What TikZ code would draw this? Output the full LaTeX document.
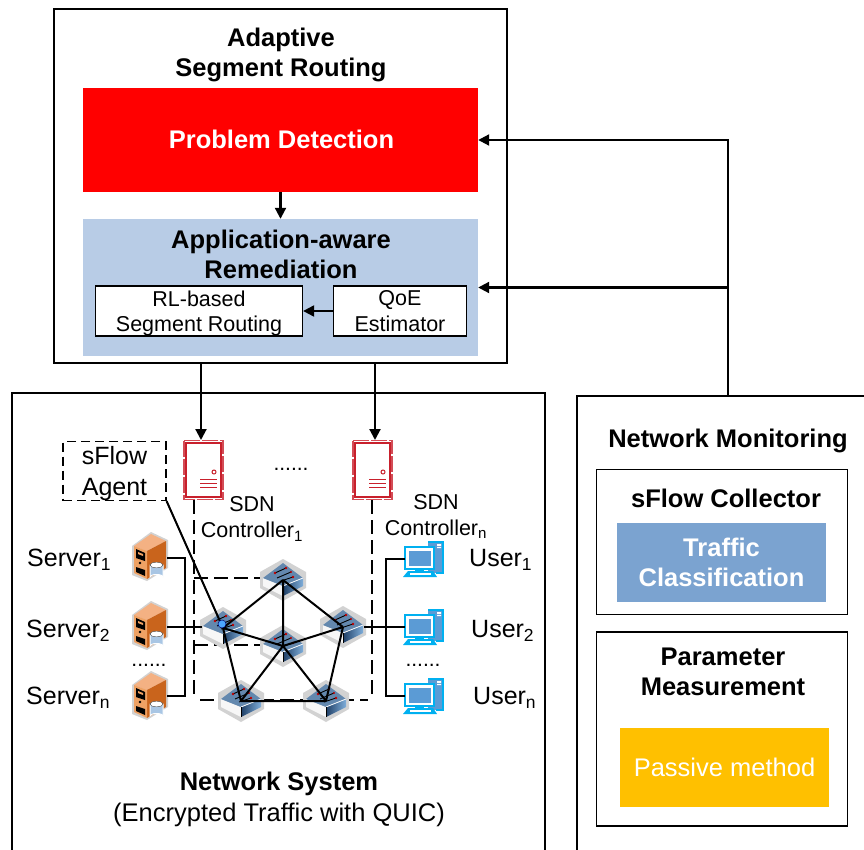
\documentclass[tikz,border=0pt]{standalone}
\usepackage{fontspec}
\setmainfont{Liberation Sans}
\usetikzlibrary{arrows.meta,calc}
\definecolor{redbox}{HTML}{FF0000}
\definecolor{lightblue}{HTML}{B8CCE6}
\definecolor{midblue}{HTML}{7BA3D0}
\definecolor{amber}{HTML}{FFC000}
\definecolor{ctrl}{HTML}{C8202C}
\definecolor{swtop}{HTML}{6388AE}
\definecolor{swdark}{HTML}{1F3F66}
\definecolor{swlight}{HTML}{7FAEDA}
\definecolor{halo}{HTML}{D2D2D2}
\definecolor{srvtop}{HTML}{F4B183}
\definecolor{srvright}{HTML}{C9641C}
\definecolor{srvleft}{HTML}{EFA264}
\definecolor{cyl}{HTML}{A9C6E4}
\definecolor{pccyan}{HTML}{00B0F0}
\definecolor{pcblue}{HTML}{5B9BD5}
\tikzset{
  x=1pt,y=-1pt,
  frame/.style={draw=black,line width=1.5pt,fill=white},
  innerbox/.style={draw=black,line width=1.3pt,fill=white},
  lbl/.style={font=\fontsize{25}{31}\selectfont,align=center,inner sep=0pt},
  blbl/.style={font=\fontsize{25.5}{30}\selectfont\bfseries,align=center,inner sep=0pt},
  slbl/.style={font=\fontsize{21.5}{25.5}\selectfont,align=center,inner sep=0pt},
  dotlbl/.style={font=\fontsize{21}{26}\selectfont,inner sep=0pt},
  wire/.style={draw=black,line width=2pt},
  arr/.style={draw=black,line width=2.1pt,-{Triangle[length=11pt,width=11pt]}},
  dashln/.style={draw=black,line width=1.5pt,dash pattern=on 14pt off 6pt},
  pics/switchicon/.style={code={
    \fill[halo] (0,-21)--(23,-8)--(23,8)--(0,21)--(-23,8)--(-23,-8)--cycle;
    \fill[gray!6] (-20,-2)--(0,6)--(0,16)--(-20,6)--cycle;
    \shade[left color=swdark,right color=swlight] (0,6)--(20,-2)--(20,6)--(0,16)--cycle;
    \fill[swtop] (0,-17)--(20,-2)--(0,6)--(-20,-2)--cycle;
    \draw[white,line width=.8pt] (0,6)--(20,-2);
    \draw[black,line width=.9pt] (0,6)--(0,16);
    \draw[black,line width=.9pt] (-8,-7)--(3,-12) (-6,-2)--(8,-8) (-2,1)--(10,-3);
    \fill[red!75!black] (3,-12) circle (1.4) (-8,-7) circle (1.4) (10,-3) circle (1.4) (8,-8) circle (1.2);
  }},
  pics/servericon/.style={code={
    \fill[halo] (-18,-10)--(1,-24)--(18,-16)--(18,12)--(-3,25)--(-18,19)--cycle;
    \fill[srvtop] (-16,-10)--(1,-22)--(16,-15)--(-3,-5)--cycle;
    \fill[srvright] (-3,-5)--(16,-15)--(16,12)--(-3,23)--cycle;
    \fill[srvleft] (-16,-10)--(-3,-5)--(-3,23)--(-16,17)--cycle;
    \fill[black] (-14,-7)--(-5,-3)--(-5,5)--(-14,2)--cycle (-14,11)--(-5,14)--(-5,20)--(-14,16)--cycle;
    \fill[srvleft] (-12,-4)--(-7,-2)--(-7,0)--(-12,-2)--cycle;
    \fill[black] (-10,7) circle (1.3);
    \fill[cyl,draw=white,line width=1pt] (0,9)--(0,21) arc[start angle=180,end angle=360,x radius=6.5,y radius=2.5]--(13,9)--cycle;
    \fill[white,draw=gray!60!black,line width=.4pt] (6.5,9) ellipse (6.5 and 2.8);
  }},
  pics/usericon/.style={code={
    \fill[pcblue] (6,-17) rectangle (21,14);
    \draw[pccyan,line width=1.2pt] (6,-17)--(21,-17)--(21,14)--(14,14);
    \fill[white] (15,-15) rectangle (19,-13) (15,-12) rectangle (19,-11);
    \fill[white] (-17,-12) rectangle (12,10);
    \draw[pccyan,line width=1.6pt] (-17,-12) rectangle (12,10);
    \fill[pcblue,draw=white,line width=1pt] (-14,-9) rectangle (9,7);
    \fill[pccyan] (-7,10) rectangle (2,13);
    \fill[pccyan] (-19,18)--(-14,12)--(11,12)--(15,18)--cycle;
    \fill[white] (-12,14) rectangle (9,16);
  }},
  pics/ctrlicon/.style={code={
    \draw[ctrl,line width=1.6pt,fill=white] (-17.5,-27) rectangle (17.5,27);
    \draw[ctrl!80!white,line width=1.4pt,dash pattern=on 16pt off 2pt] (-19.5,-29.5) rectangle (19.5,29.5);
    \draw[ctrl,line width=1pt] (10.5,2) circle (2);
    \draw[ctrl,line width=1pt] (-3.5,9)--(13,9) (-3.5,13)--(13,13) (-3.5,17)--(13,17);
  }},
}
\begin{document}
\begin{tikzpicture}
\useasboundingbox (0,0) rectangle (864,850);
% outer boxes
\path[frame] (54,9) rectangle (507,363);
\path[frame] (12,393) -- (545,393) -- (545,860) -- (12,860) -- cycle;
\draw[black,line width=1.5pt] (577,850) -- (577,396) -- (864,396);

% ASR contents
\node[blbl] (asr) at (281,54.5) {Adaptive\\Segment Routing};
\node[fill=redbox,minimum width=395pt,minimum height=104pt,inner sep=0pt] (pd) at (280.5,140) {};
\node[text=white,inner sep=0pt,font=\fontsize{25.5}{30}\selectfont\bfseries] (pdt) at (281.5,139) {Problem Detection};
\node[fill=lightblue,minimum width=395pt,minimum height=137pt,inner sep=0pt] (rem) at (280.5,287.5) {};
\node[blbl] (remt) at (281,254) {Application-aware\\Remediation};
\node[innerbox,minimum width=207pt,minimum height=50pt,inner sep=0pt,slbl] (rl) at (199,311) {RL-based\\\raisebox{0pt}[\height][0pt]{Segment Routing}};
\node[innerbox,minimum width=133pt,minimum height=50pt,inner sep=0pt,slbl] (qoe) at (400,311) {QoE\\Estimator};
\draw[arr] (pd.south) -- (rem.north);
\draw[arr] (qoe.west) -- (rl.east);

% right side
\node[blbl] (nm) at (728,441) {Network Monitoring};
\node[innerbox,minimum width=251pt,minimum height=145pt] (sfc) at (722,542) {};
\node[blbl] (sfct) at (726,498) {sFlow Collector};
\node[fill=midblue,minimum width=209pt,minimum height=79pt,inner sep=0pt,text=white,font=\fontsize{25.5}{30}\selectfont\bfseries,align=center] (tc) at (721.5,562.5) {Traffic\\Classification};
\node[innerbox,minimum width=251pt,minimum height=194pt] (pm) at (722,729) {};
\node[blbl] (pmt) at (723,672) {Parameter\\Measurement};
\node[fill=amber,minimum width=209pt,minimum height=79pt,inner sep=0pt,text=white,font=\fontsize{25.5}{30}\selectfont] (pas) at (724.5,767.5) {Passive method};

% monitoring arrows
\coordinate (mon) at (728,396);
\draw[arr] (mon) |- (pd.east);
\draw[arr] (mon |- rem.east) -- (rem.east);

% controllers
\pic at (203.5,470) {ctrlicon};
\coordinate (c1b) at (194,500);
\pic at (372.5,470) {ctrlicon};
\coordinate (cnb) at (372,500);
\coordinate (a1) at (201,363);
\coordinate (an) at (375,363);
\coordinate (a1e) at (201,440);
\coordinate (ane) at (375,440);
\draw[arr] (a1) -- (a1e);
\draw[arr] (an) -- (ane);
\node[lbl,font=\fontsize{21.5}{26}\selectfont] (sdn1) at (252,519) {SDN\\Controller\textsubscript{1}};
\node[lbl,font=\fontsize{21.5}{26}\selectfont] (sdnn) at (436,516.5) {SDN\\Controller\textsubscript{n}};
\node[dotlbl] (dots0) at (291,469) {......};

% sFlow agent
\node[draw=black,line width=1.2pt,dash pattern=on 9pt off 5pt,minimum width=103pt,minimum height=59pt,inner sep=0pt] (agent) at (114.5,471) {};
\node[lbl] (agentt) at (114.5,474) {sFlow\\Agent};

% dashed regions
\draw[dashln] (c1b) -- (194,700);
\draw[dashln] (cnb) -- (372,700);
\draw[dashln] (194,578) -- (263,578);
\draw[dashln] (194,645) -- (263,645);
\draw[dashln] (200,700) -- (368,700);

% switch coordinates
\coordinate (st) at (283,580);
\coordinate (sl) at (223,628);
\coordinate (sc) at (283,646);
\coordinate (sr) at (343,627);
\coordinate (sbl) at (241,701);
\coordinate (sbr) at (326,701);
\coordinate (sll) at (202,627);
\coordinate (srr) at (364,627);
\foreach \p in {st,sl,sc,sr,sbl,sbr} \pic at (\p) {switchicon};
\draw[wire] (st)--(sl) (st)--(sc) (st)--(sr) (sl)--(sc) (sl)--(sbl) (sc)--(sr) (sc)--(sbl) (sc)--(sbr) (sr)--(sbr) (sbl)--(sbr);
\draw[wire] (agent.south east) -- (sl);
\fill[blue!50!cyan!70!white,draw=blue!40!black,line width=.5pt] (222,624) circle (4);

% servers
\coordinate (s1) at (150,556);
\coordinate (s2) at (150,625);
\coordinate (sn) at (150,695);
\foreach \p in {s1,s2,sn} \pic at (\p) {servericon};
\coordinate (s1r) at (167,558);
\coordinate (s2r) at (167,627);
\coordinate (snr) at (167,696);
\draw[wire] (s1r) -| (185,696) -- (snr);
\draw[wire] (s2r) -- (sll);
\node[lbl,anchor=west] (srv1) at (27,560) {Server\textsubscript{1}};
\node[lbl,anchor=west] (srv2) at (26,631) {Server\textsubscript{2}};
\node[lbl,anchor=west] (srvn) at (26,698) {Server\textsubscript{n}};
\node[dotlbl] (dots1) at (149,665) {......};

% users
\coordinate (u1) at (422,559);
\coordinate (u2) at (422,627);
\coordinate (un) at (422,696);
\foreach \p in {u1,u2,un} \pic at (\p) {usericon};
\coordinate (u1l) at (405,559);
\coordinate (u2l) at (405,627);
\coordinate (unl) at (405,696);
\draw[wire] (u1l) -| (386,696) -- (unl);
\draw[wire] (srr) -- (u2l);
\node[lbl,anchor=west] (usr1) at (469,560) {User\textsubscript{1}};
\node[lbl,anchor=west] (usr2) at (471,631) {User\textsubscript{2}};
\node[lbl,anchor=west] (usrn) at (473,698) {User\textsubscript{n}};
\node[dotlbl] (dots2) at (423,665) {......};

% network system title
\node[blbl] (nst) at (279,784) {Network System};
\node[lbl,font=\fontsize{25.5}{30}\selectfont] (nss) at (279,815) {(Encrypted Traffic with QUIC)};
\end{tikzpicture}
\end{document}
